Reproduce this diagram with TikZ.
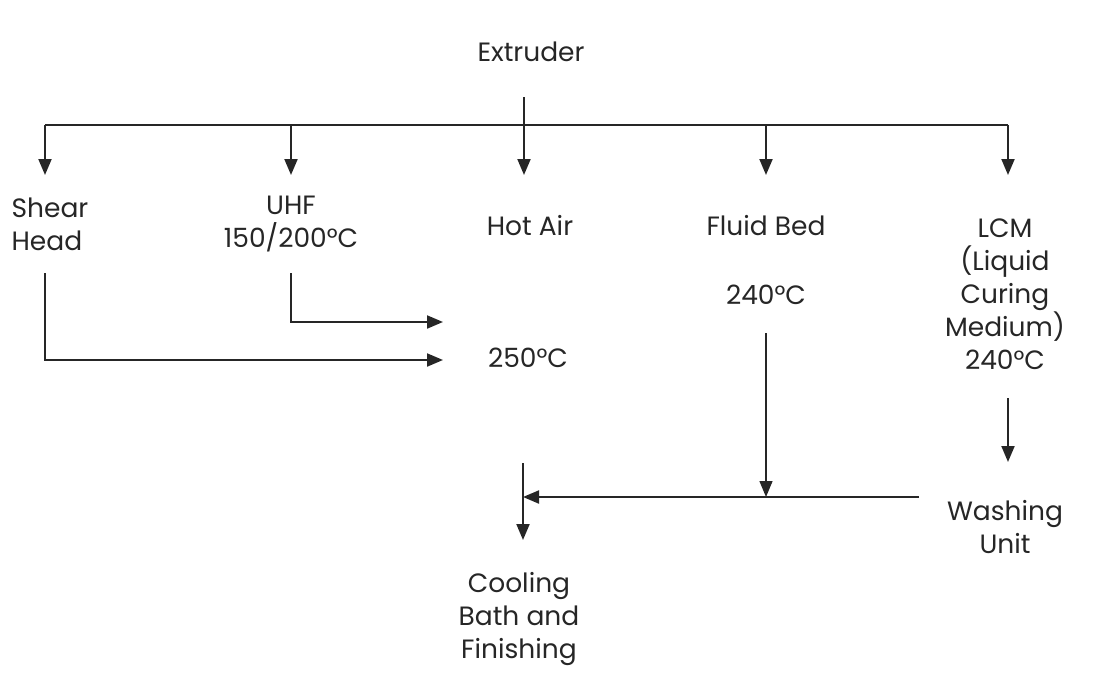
\documentclass[tikz,border=0pt]{standalone}
\usepackage{fontspec}
\setmainfont{Poppins}
\usetikzlibrary{arrows.meta}
\begin{document}
\begin{tikzpicture}[x=1pt,y=-1pt,
  lbl/.style={inner sep=0pt,align=center,font=\fontsize{26.5}{33}\selectfont,text=black!85},
  ln/.style={line width=2pt,black!85},
  arr/.style={ln,-{Triangle[length=16pt,width=13pt]}},
  thin/.style={line width=1.4pt,black!85}]
\useasboundingbox (0,0) rectangle (1096,691);
% nodes
\node[lbl] (ext) at (531,52) {Extruder};
\node[lbl,align=left] (shear) at (50,224) {Shear\\Head};
\node[lbl] (uhf) at (291,224) {UHF\\150/200°C};
\node[lbl] (hot) at (530,226) {Hot Air};
\node[lbl] (fluid) at (766,226) {Fluid Bed};
\node[lbl] (fluidt) at (766,295) {240°C};
\node[lbl] (lcm) at (1005,294) {LCM\\(Liquid\\Curing\\Medium)\\240°C};
\node[lbl] (hott) at (528,358) {250°C};
\node[lbl] (wash) at (1005,527) {Washing\\Unit};
\node[lbl] (cool) at (519,619) {Cooling\\Bath and\\Finishing};
% coordinates
\coordinate (e0) at (524,97);
\coordinate (bus) at (524,125);
\coordinate (bl) at (45,125);
\coordinate (bu) at (291,125);
\coordinate (bf) at (766,125);
\coordinate (br) at (1008,125);
\coordinate (s0) at (45,273);
\coordinate (s1) at (45,360);
\coordinate (st) at (443,360);
\coordinate (u0) at (291,273);
\coordinate (u1) at (291,322);
\coordinate (ut) at (443,322);
\coordinate (f0) at (766,333);
\coordinate (f1) at (766,497);
\coordinate (w0) at (919,497);
\coordinate (j) at (523,497);
\coordinate (c0) at (523,463);
\coordinate (ct) at (523,540);
\coordinate (l0) at (1008,398);
\coordinate (lt) at (1008,462);
% bus
\draw[ln] (bl) -- (br);
\draw[arr] (e0) -- (bus) -- (524,175);
\draw[arr] (bl) -- (45,175);
\draw[arr] (bu) -- (291,175);
\draw[arr] (bf) -- (766,175);
\draw[arr] (br) -- (1008,175);
% feeds to hot air
\draw[arr] (u0) -- (u1) -- (ut);
\draw[arr] (s0) -- (s1) -- (st);
% fluid bed and washing
\draw[thin,-{Triangle[length=16pt,width=13pt]}] (f0) -- (f1);
\draw[arr] (l0) -- (lt);
\draw[arr] (w0) -- (j);
\draw[arr] (c0) -- (ct);
\end{tikzpicture}
\end{document}
